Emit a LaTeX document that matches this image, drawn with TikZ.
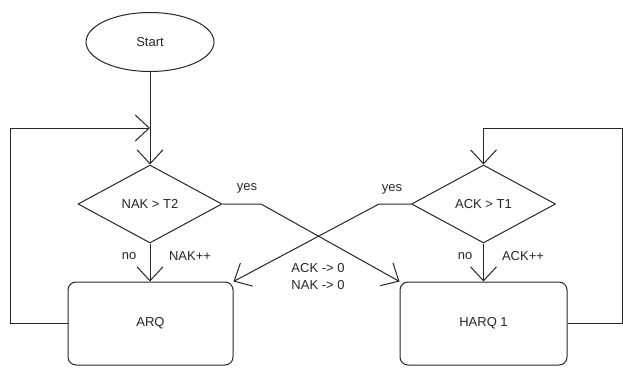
\documentclass[tikz,border=0pt]{standalone}
\usepackage{fontspec}
\setmainfont{Liberation Sans}
\usetikzlibrary{shapes.geometric,arrows.meta}

\begin{document}
\begin{tikzpicture}[x=1pt,y=-1pt,line width=1pt,draw=black!85,
  flow/.style={-{Straight Barb[length=14pt,width=26pt]}},
  box/.style={draw,rounded corners=8pt,minimum width=165pt,minimum height=83pt,inner sep=0pt},
  decision/.style={draw,diamond,aspect=2,minimum width=144pt,minimum height=78pt,inner sep=0pt},
  every node/.style={font=\fontsize{13}{17}\selectfont,text=black!85}]
\useasboundingbox (0,0) rectangle (623,367);

\node [draw,ellipse,minimum width=128pt,minimum height=59pt,inner sep=0pt] (start) at (150,42) {Start};
\node [decision] (nak) at (150,204) {NAK > T2};
\node [decision] (ack) at (483.5,204) {ACK > T1};
\node [box] (arq) at (150.5,323.5) {ARQ};
\node [box,minimum width=167pt] (harq) at (483.5,323.5) {HARQ 1};

\coordinate (join) at (150,128);
\coordinate (loopR) at (ack.north |- join);
\coordinate (yesL) at (261,204);
\coordinate (yesR) at (379,204);

\draw (start) -- (join);
\draw[flow] (join) -- (nak);
\draw[flow] (arq.west) -- ++(-57,0) |- (join);
\draw[flow] (harq.east) -- ++(55,0) |- (loopR) -- (ack);

\draw[flow] (nak.east) -- (yesL) -- (harq.north west);
\draw[flow] (ack.west) -- (yesR) -- (arq.north east);
\draw[flow] (nak.south) -- (nak.south |- arq.north);
\draw[flow] (ack.south) -- (ack.south |- harq.north);

\node (yesnak) at (247,188) {yes};
\node (yesack) at (392,189) {yes};
\node (nonak) at (129,256) {no};
\node (incnak) at (190,256) {NAK++};
\node (noack) at (465,256) {no};
\node (incack) at (523,256) {ACK++};
\node [align=center] (reset) at (318,277) {ACK -> 0\\NAK -> 0};

\end{tikzpicture}
\end{document}
